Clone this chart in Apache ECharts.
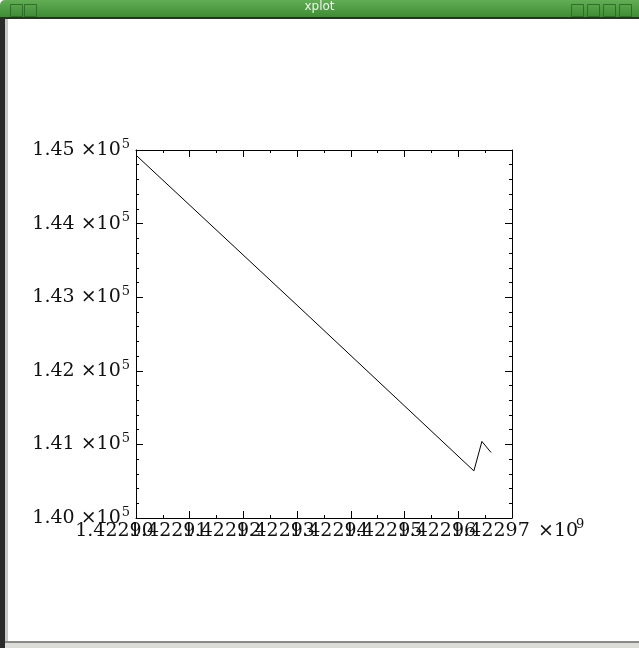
<!DOCTYPE html>
<html>
<head>
<meta charset="utf-8">
<title>xplot</title>
<script src="https://cdn.jsdelivr.net/npm/echarts@6/dist/echarts.min.js"></script>
<style>
  html, body { margin: 0; padding: 0; background: #ffffff; }
  #chart { width: 639px; height: 648px; }
</style>
</head>
<body>
<div id="chart"></div>
<script>
// Time stamps (seconds) and measured values of the trace
const timeStamps = [1422900000, 1422930000, 1422962900, 1422964400, 1422966100];
const readings   = [144930, 142890, 140640, 141040, 140890];

// Axis ranges and tick steps
const xRange = [1422900000, 1422970000];
const xStep = 10000;
const yRange = [140000, 145000];
const yStep = 1000;

const labelFont = 'DejaVu Serif';
const labelSize = 19;

const points = timeStamps.map((t, i) => [t, readings[i]]);

const chart = echarts.init(document.getElementById('chart'), null, { renderer: 'canvas' });

const frameAxis = {
  type: 'value',
  axisLine: { show: true, onZero: false, lineStyle: { color: '#000', width: 1 } },
  axisTick: { show: true, inside: true, length: 7, lineStyle: { color: '#000' } },
  splitLine: { show: false },
  minorSplitLine: { show: false }
};

// Tick labels of the time axis; even and odd steps go on two label layers
// so that the wide labels may overlap each other like the plot program draws them.
const stepIndex = v => Math.round((v - xRange[0]) / xStep);
const timeLabel = parity => v => (stepIndex(v) % 2 === parity ? (v / 1e9).toFixed(5) : '');
const timeLabelStyle = parity => ({
  show: true, color: '#111', fontFamily: labelFont, fontSize: labelSize,
  margin: 4, padding: [0, 43, 0, 0],
  showMinLabel: true, showMaxLabel: true, hideOverlap: false,
  alignMinLabel: 'center', alignMaxLabel: 'center',
  interval: 0,
  formatter: timeLabel(parity)
});

chart.setOption({
  animation: false,
  backgroundColor: '#ffffff',
  grid: { left: 136, top: 150, width: 376, height: 368, containLabel: false },
  xAxis: [
    Object.assign({}, frameAxis, {
      position: 'bottom',
      min: xRange[0], max: xRange[1], interval: xStep,
      minorTick: { show: true, splitNumber: 2, length: 3, lineStyle: { color: '#000' } },
      axisLabel: timeLabelStyle(0)
    }),
    Object.assign({}, frameAxis, {
      position: 'top',
      min: xRange[0], max: xRange[1], interval: xStep,
      minorTick: { show: true, splitNumber: 2, length: 3, lineStyle: { color: '#000' } },
      axisLabel: { show: false }
    }),
    {
      type: 'value',
      position: 'bottom', offset: 0,
      min: xRange[0], max: xRange[1], interval: xStep,
      axisLine: { show: false }, axisTick: { show: false }, splitLine: { show: false },
      axisLabel: timeLabelStyle(1)
    }
  ],
  yAxis: [
    Object.assign({}, frameAxis, {
      position: 'left',
      min: yRange[0], max: yRange[1], interval: yStep,
      minorTick: { show: true, splitNumber: 5, length: 3, lineStyle: { color: '#000' } },
      axisLabel: {
        show: true, margin: 6,
        showMinLabel: true, showMaxLabel: true, hideOverlap: false,
        formatter: v => '{n|' + (v / 1e5).toFixed(2) + '}{t|×10}{s|5}',
        rich: {
          n: { fontFamily: labelFont, fontSize: labelSize, color: '#111', lineHeight: 24 },
          t: { fontFamily: labelFont, fontSize: labelSize, color: '#111', lineHeight: 24, padding: [0, 0, 0, 6] },
          s: { fontFamily: labelFont, fontSize: 13, color: '#111', lineHeight: 24, verticalAlign: 'top', padding: [0, 0, 11, 1] }
        }
      }
    }),
    Object.assign({}, frameAxis, {
      position: 'right',
      min: yRange[0], max: yRange[1], interval: yStep,
      minorTick: { show: true, splitNumber: 5, length: 3, lineStyle: { color: '#000' } },
      axisLabel: { show: false }
    })
  ],
  graphic: [
    // window title bar
    { type: 'rect', left: 0, top: 0, shape: { width: 639, height: 17, r: [5, 0, 0, 0] },
      style: { fill: new echarts.graphic.LinearGradient(0, 0, 0, 1, [
        { offset: 0, color: '#62ad55' }, { offset: 1, color: '#3f8c35' }]) }, z: 10 },
    { type: 'rect', left: 0, top: 17, shape: { width: 639, height: 2 }, style: { fill: '#1e3a1a' }, z: 10 },
    { type: 'text', left: 'center', top: 1, style: { text: 'xplot', fill: '#eef5ea', fontFamily: 'DejaVu Sans', fontSize: 12 }, z: 11 },
    // title bar buttons
    { type: 'rect', left: 8, top: 2, shape: { width: 12, height: 12 }, style: { fill: 'none', stroke: '#2f6e27', lineWidth: 1 }, z: 11 },
    { type: 'rect', left: 22, top: 2, shape: { width: 12, height: 12 }, style: { fill: 'none', stroke: '#2f6e27', lineWidth: 1 }, z: 11 },
    { type: 'rect', left: 569, top: 2, shape: { width: 12, height: 12 }, style: { fill: 'none', stroke: '#2f6e27', lineWidth: 1 }, z: 11 },
    { type: 'rect', left: 585, top: 2, shape: { width: 12, height: 12 }, style: { fill: 'none', stroke: '#2f6e27', lineWidth: 1 }, z: 11 },
    { type: 'rect', left: 601, top: 2, shape: { width: 12, height: 12 }, style: { fill: 'none', stroke: '#2f6e27', lineWidth: 1 }, z: 11 },
    { type: 'rect', left: 617, top: 2, shape: { width: 12, height: 12 }, style: { fill: 'none', stroke: '#2f6e27', lineWidth: 1 }, z: 11 },
    // window left and bottom frame
    { type: 'rect', left: 0, top: 19, shape: { width: 5, height: 629 }, style: { fill: '#2a2a2a' }, z: 10 },
    { type: 'rect', left: 5, top: 19, shape: { width: 3, height: 629 }, style: { fill: '#c8c8c4' }, z: 10 },
    { type: 'rect', left: 5, top: 641, shape: { width: 634, height: 2 }, style: { fill: '#8a8a88' }, z: 10 },
    { type: 'rect', left: 5, top: 643, shape: { width: 634, height: 5 }, style: { fill: '#dcdcd8' }, z: 10 },
    // exponent for the time axis
    { type: 'text', left: 538, top: 522, style: { text: '×10', fill: '#111', fontFamily: labelFont, fontSize: labelSize }, z: 5 },
    { type: 'text', left: 576, top: 518, style: { text: '9', fill: '#111', fontFamily: labelFont, fontSize: 13 }, z: 5 }
  ],
  series: [{
    type: 'line',
    xAxisIndex: 0, yAxisIndex: 0,
    data: points,
    showSymbol: false,
    lineStyle: { color: '#000', width: 1 },
    silent: true
  }]
});
</script>
</body>
</html>
